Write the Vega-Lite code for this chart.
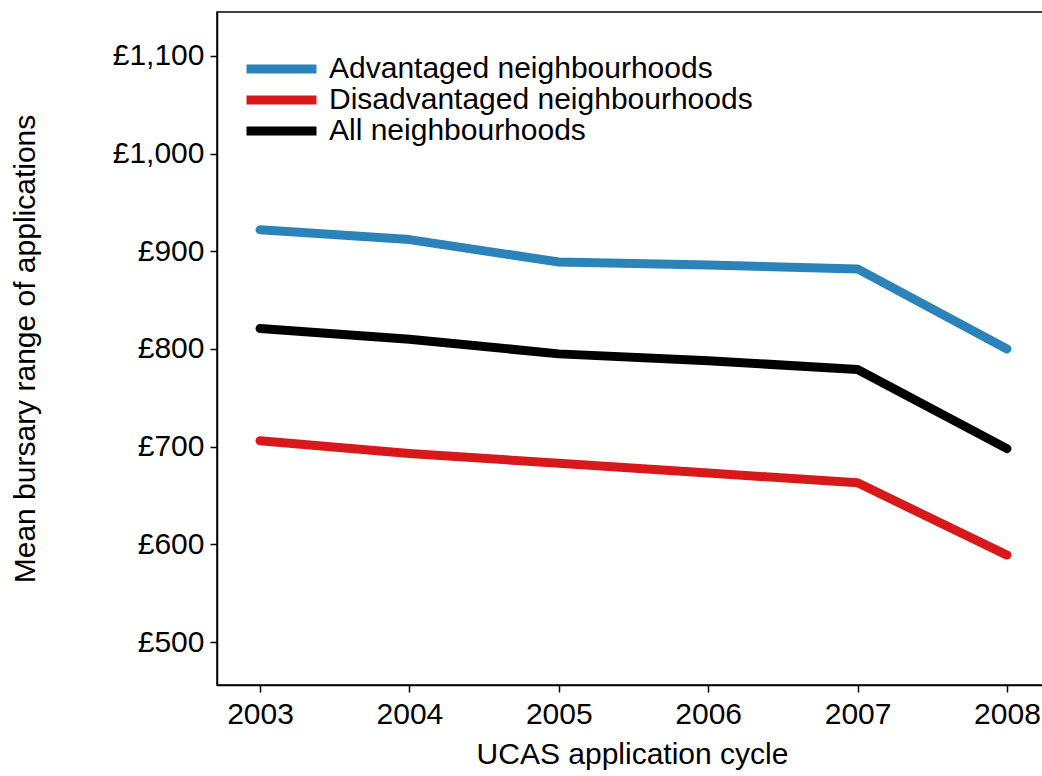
{
  "$schema": "https://vega.github.io/schema/vega-lite/v6.json",
  "autosize": "none",
  "padding": {"left": 217, "top": 12, "right": 0, "bottom": 91},
  "width": 830,
  "height": 673,
  "background": "white",
  "config": {
    "font": "Liberation Sans",
    "view": {"stroke": "black", "strokeWidth": 1.5}
  },
  "data": {
    "values": [
      {"year": 2003, "group": "Advantaged neighbourhoods", "value": 922},
      {"year": 2004, "group": "Advantaged neighbourhoods", "value": 912},
      {"year": 2005, "group": "Advantaged neighbourhoods", "value": 889},
      {"year": 2006, "group": "Advantaged neighbourhoods", "value": 886},
      {"year": 2007, "group": "Advantaged neighbourhoods", "value": 882},
      {"year": 2008, "group": "Advantaged neighbourhoods", "value": 800},
      {"year": 2003, "group": "Disadvantaged neighbourhoods", "value": 706},
      {"year": 2004, "group": "Disadvantaged neighbourhoods", "value": 693},
      {"year": 2005, "group": "Disadvantaged neighbourhoods", "value": 683},
      {"year": 2006, "group": "Disadvantaged neighbourhoods", "value": 673},
      {"year": 2007, "group": "Disadvantaged neighbourhoods", "value": 663},
      {"year": 2008, "group": "Disadvantaged neighbourhoods", "value": 589},
      {"year": 2003, "group": "All neighbourhoods", "value": 821},
      {"year": 2004, "group": "All neighbourhoods", "value": 810},
      {"year": 2005, "group": "All neighbourhoods", "value": 795},
      {"year": 2006, "group": "All neighbourhoods", "value": 788},
      {"year": 2007, "group": "All neighbourhoods", "value": 779},
      {"year": 2008, "group": "All neighbourhoods", "value": 698}
    ]
  },
  "mark": {"type": "line", "strokeWidth": 9, "strokeCap": "round", "strokeJoin": "round"},
  "encoding": {
    "x": {
      "field": "year",
      "type": "quantitative",
      "scale": {"domain": [2002.712, 2008.268], "nice": false, "zero": false},
      "axis": {
        "title": "UCAS application cycle",
        "values": [2003, 2004, 2005, 2006, 2007, 2008],
        "format": "d",
        "grid": false,
        "domainColor": "black",
        "domainWidth": 1.5,
        "tickColor": "black",
        "tickWidth": 1.5,
        "tickSize": 7,
        "labelFontSize": 30,
        "labelColor": "black",
        "labelPadding": 7,
        "titleFontSize": 30,
        "titleFontWeight": "normal",
        "titleColor": "black",
        "titlePadding": 10
      }
    },
    "y": {
      "field": "value",
      "type": "quantitative",
      "scale": {"domain": [456, 1145], "nice": false, "zero": false},
      "axis": {
        "title": "Mean bursary range of applications",
        "values": [500, 600, 700, 800, 900, 1000, 1100],
        "labelExpr": "'£' + format(datum.value, ',')",
        "grid": false,
        "domainColor": "black",
        "domainWidth": 1.5,
        "tickColor": "black",
        "tickWidth": 1.5,
        "tickSize": 7,
        "labelFontSize": 30,
        "labelColor": "black",
        "labelPadding": 6,
        "titleFontSize": 30,
        "titleFontWeight": "normal",
        "titleColor": "black",
        "titlePadding": 72
      }
    },
    "color": {
      "field": "group",
      "type": "nominal",
      "scale": {
        "domain": ["Advantaged neighbourhoods", "Disadvantaged neighbourhoods", "All neighbourhoods"],
        "range": ["#2b83ba", "#d7191c", "#000000"]
      },
      "legend": {
        "title": null,
        "orient": "none",
        "legendX": 25,
        "legendY": 42,
        "symbolType": "stroke",
        "symbolSize": 4900,
        "symbolStrokeWidth": 9,
        "clipHeight": 30,
        "rowPadding": 1,
        "labelFontSize": 30,
        "labelColor": "black",
        "labelOffset": 8,
        "labelLimit": 600
      }
    }
  }
}
